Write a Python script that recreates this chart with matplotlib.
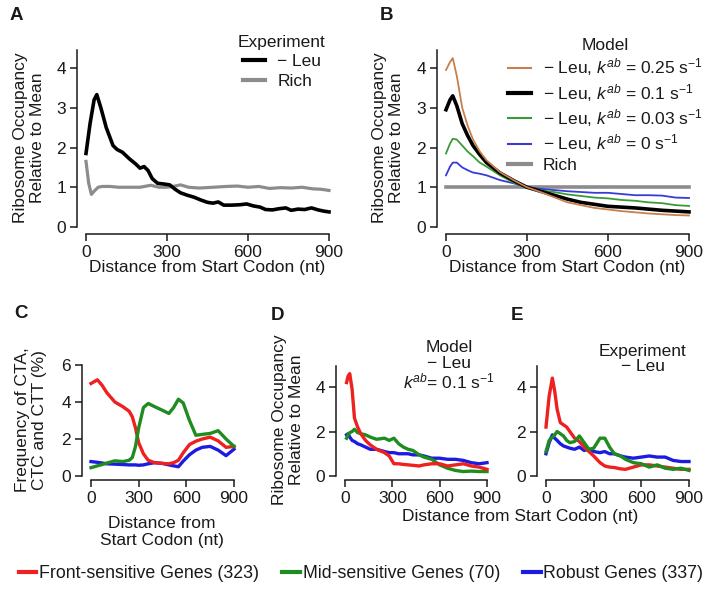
import matplotlib
matplotlib.use("Agg")
import matplotlib.pyplot as plt
from matplotlib.lines import Line2D

plt.rcParams['font.family'] = ['Liberation Sans', 'DejaVu Sans']
plt.rcParams['mathtext.fontset'] = 'custom'
plt.rcParams['mathtext.rm'] = 'Liberation Sans'
plt.rcParams['mathtext.it'] = 'Liberation Sans:italic'
plt.rcParams['text.color'] = '#1a1a1a'
plt.rcParams['axes.edgecolor'] = '#1a1a1a'
plt.rcParams['xtick.color'] = '#1a1a1a'
plt.rcParams['ytick.color'] = '#1a1a1a'

W, H = 709, 592
MINUS = '\u2212'
FS = 12.5

# ---- panel A: experiment ----
leu_x = [0, 15, 30, 40, 55, 75, 100, 115, 135, 160, 185, 200, 215, 230, 245, 265, 290,
         310, 330, 350, 375, 400, 425, 450, 470, 490, 510, 540, 570, 595, 620, 645, 665,
         690, 715, 740, 760, 785, 810, 835, 860, 880, 900]
leu_y = [1.85, 2.6, 3.2, 3.33, 3.0, 2.5, 2.05, 1.95, 1.88, 1.72, 1.58, 1.48, 1.52, 1.42,
         1.22, 1.1, 1.08, 1.06, 0.95, 0.86, 0.8, 0.75, 0.68, 0.62, 0.6, 0.63, 0.55, 0.55,
         0.56, 0.58, 0.53, 0.5, 0.44, 0.43, 0.46, 0.48, 0.42, 0.45, 0.44, 0.48, 0.43, 0.4, 0.38]
rich_x = [0, 10, 20, 30, 45, 60, 90, 120, 160, 200, 240, 270, 300, 330, 350, 380, 420,
          470, 520, 560, 600, 640, 680, 720, 760, 800, 840, 870, 900]
rich_y = [1.65, 1.1, 0.82, 0.9, 1.0, 1.02, 1.02, 1.0, 1.0, 1.0, 1.05, 1.0, 1.0, 1.03, 1.06,
          1.0, 0.98, 1.0, 1.02, 1.03, 1.0, 1.02, 0.97, 0.99, 0.98, 1.0, 0.96, 0.95, 0.92]

# ---- panel B: model ----
model_x = [0, 15, 25, 40, 60, 80, 100, 125, 150, 200, 250, 300, 350, 400, 450, 500, 550,
           600, 650, 700, 750, 800, 850, 900]
k025 = [3.95, 4.15, 4.25, 3.8, 3.0, 2.55, 2.2, 1.9, 1.68, 1.38, 1.18, 1.0, 0.88, 0.75,
        0.62, 0.55, 0.48, 0.44, 0.4, 0.37, 0.34, 0.32, 0.3, 0.29]
k010 = [2.95, 3.2, 3.3, 3.05, 2.6, 2.3, 2.05, 1.82, 1.62, 1.36, 1.17, 1.0, 0.9, 0.8, 0.7,
        0.62, 0.57, 0.52, 0.5, 0.48, 0.45, 0.42, 0.4, 0.38]
k003 = [1.85, 2.1, 2.22, 2.2, 2.05, 1.9, 1.78, 1.62, 1.52, 1.3, 1.12, 1.0, 0.92, 0.88,
        0.82, 0.78, 0.74, 0.72, 0.68, 0.66, 0.62, 0.6, 0.55, 0.53]
k000 = [1.3, 1.52, 1.62, 1.62, 1.5, 1.43, 1.37, 1.34, 1.3, 1.18, 1.1, 1.0, 0.96, 0.93, 0.9,
        0.88, 0.86, 0.86, 0.83, 0.8, 0.8, 0.79, 0.74, 0.73]
rich_model_x = [0, 900]
rich_model_y = [1.0, 1.0]
model_labels = [MINUS + r' Leu, $k^{ab}$ = 0.25 s$^{-1}$',
                MINUS + r' Leu, $k^{ab}$ = 0.1 s$^{-1}$',
                MINUS + r' Leu, $k^{ab}$ = 0.03 s$^{-1}$',
                MINUS + r' Leu, $k^{ab}$ = 0 s$^{-1}$',
                'Rich']

# ---- panel C: codon frequency ----
c_x = [0, 20, 40, 70, 100, 150, 200, 240, 260, 280, 300, 330, 360, 400, 450, 490, 520,
       550, 580, 620, 660, 700, 750, 800, 850, 900]
c_front = [5.0, 5.1, 5.2, 4.9, 4.5, 4.0, 3.75, 3.5, 3.2, 2.6, 1.8, 1.2, 0.85, 0.72, 0.68,
           0.66, 0.72, 0.85, 1.25, 1.7, 1.88, 2.0, 2.1, 1.9, 1.55, 1.6]
c_mid = [0.45, 0.5, 0.55, 0.62, 0.7, 0.82, 0.78, 0.85, 1.0, 1.6, 2.6, 3.7, 3.92, 3.75,
         3.55, 3.38, 3.7, 4.15, 3.95, 3.0, 2.2, 2.25, 2.3, 2.45, 2.0, 1.6]
c_robust = [0.78, 0.76, 0.74, 0.7, 0.66, 0.64, 0.62, 0.6, 0.6, 0.6, 0.58, 0.6, 0.66, 0.72,
            0.68, 0.6, 0.55, 0.5, 0.8, 1.15, 1.4, 1.55, 1.6, 1.4, 1.1, 1.45]

# ---- panel D: model, gene groups ----
d_x = [10, 20, 30, 45, 60, 80, 100, 130, 160, 200, 250, 280, 310, 340, 370, 400, 430,
       470, 500, 550, 600, 650, 700, 750, 800, 850, 900]
d_front = [4.2, 4.5, 4.6, 3.9, 2.6, 2.2, 1.9, 1.6, 1.4, 1.2, 1.05, 0.9, 0.55, 0.55, 0.52,
           0.5, 0.48, 0.45, 0.5, 0.55, 0.55, 0.45, 0.5, 0.55, 0.45, 0.4, 0.3]
d_mid = [1.7, 1.85, 1.95, 2.0, 2.1, 1.95, 1.9, 1.85, 1.75, 1.65, 1.7, 1.6, 1.7, 1.45, 1.3,
         1.2, 1.15, 0.95, 0.85, 0.75, 0.5, 0.35, 0.25, 0.2, 0.22, 0.2, 0.2]
d_robust = [1.85, 1.9, 1.75, 1.6, 1.55, 1.45, 1.4, 1.3, 1.2, 1.2, 1.1, 1.05, 1.05, 1.0,
            1.0, 1.0, 0.95, 0.95, 0.9, 0.8, 0.8, 0.75, 0.75, 0.7, 0.6, 0.55, 0.6]

# ---- panel E: experiment, gene groups ----
e_x = [0, 20, 40, 55, 70, 90, 110, 130, 150, 180, 210, 240, 270, 300, 340, 370, 400, 430,
       470, 500, 550, 600, 650, 700, 750, 800, 850, 900]
e_front = [2.2, 3.6, 4.4, 3.8, 3.0, 2.4, 2.3, 2.2, 2.0, 1.7, 1.55, 1.3, 1.1, 0.9, 0.6,
           0.45, 0.4, 0.38, 0.32, 0.3, 0.4, 0.5, 0.5, 0.45, 0.4, 0.35, 0.3, 0.3]
e_mid = [1.1, 1.6, 1.75, 1.85, 2.0, 1.9, 1.8, 1.6, 1.5, 1.55, 1.8, 1.5, 1.2, 1.25, 1.7,
         1.7, 1.3, 1.0, 0.9, 0.75, 0.6, 0.55, 0.4, 0.5, 0.35, 0.3, 0.35, 0.25]
e_robust = [1.0, 1.5, 1.85, 1.7, 1.6, 1.45, 1.35, 1.3, 1.25, 1.2, 1.3, 1.15, 1.2, 1.1,
            1.05, 1.1, 1.0, 1.0, 0.9, 0.85, 0.8, 0.85, 0.9, 0.85, 0.85, 0.7, 0.65, 0.65]

group_labels = ['Front-sensitive Genes (323)', 'Mid-sensitive Genes (70)', 'Robust Genes (337)']
RED, GREEN, BLUE = '#ee2020', '#1e8c1e', '#1c1ce0'

x_ticks = [0, 300, 600, 900]


def make_axes(fig, x0, x900, ypx0, ypx_per, ytop, yticks, ybound, xoff=9, yoff=6):
    # place an axes so that data x 0..900 and y 0..ytop land on given pixels
    left = x0 / W
    width = (x900 - x0) / W
    bottom = 1 - ypx0 / H
    height = ytop * ypx_per / H
    ax = fig.add_axes([left, bottom, width, height])
    ax.set_xlim(0, 900)
    ax.set_ylim(0, ytop)
    for s in ['top', 'right']:
        ax.spines[s].set_visible(False)
    ax.spines['left'].set_position(('outward', xoff * 0.72))
    ax.spines['bottom'].set_position(('outward', yoff * 0.72))
    ax.spines['left'].set_bounds(0, ybound)
    ax.spines['bottom'].set_bounds(0, 900)
    ax.spines['left'].set_linewidth(1.1)
    ax.spines['bottom'].set_linewidth(1.1)
    ax.set_xticks(x_ticks)
    ax.set_yticks(yticks)
    ax.tick_params(direction='out', length=5, width=1.1, labelsize=12.5, pad=3)
    return ax


fig = plt.figure(figsize=(W / 100, H / 100), dpi=100)

# A
axA = make_axes(fig, 86, 329, 227, 39.75, 4.5, [0, 1, 2, 3, 4], 4.45, yoff=7)
axA.plot(rich_x, rich_y, color='#8c8c8c', lw=2.3, clip_on=False)
axA.plot(leu_x, leu_y, color='black', lw=2.6, clip_on=False)
hA = [Line2D([], [], color='black', lw=3), Line2D([], [], color='#8c8c8c', lw=3)]
axA.legend(hA, [MINUS + ' Leu', 'Rich'], title='Experiment', frameon=False,
           loc='upper left', bbox_to_anchor=(238 / W, 1 - 35 / H),
           bbox_transform=fig.transFigure, fontsize=FS, title_fontsize=FS,
           handlelength=1.3, handletextpad=0.7, borderpad=0, labelspacing=0.25,
           borderaxespad=0)

# B
axB = make_axes(fig, 446, 689, 227, 39.75, 4.5, [0, 1, 2, 3, 4], 4.45, yoff=7)
axB.plot(rich_model_x, rich_model_y, color='#8c8c8c', lw=2.6, clip_on=False)
axB.plot(model_x, k000, color='#3a3ad8', lw=1.3, clip_on=False)
axB.plot(model_x, k003, color='#3a9a3a', lw=1.3, clip_on=False)
axB.plot(model_x, k010, color='black', lw=2.6, clip_on=False)
axB.plot(model_x, k025, color='#c8804a', lw=1.3, clip_on=False)
hB = [Line2D([], [], color='#c8804a', lw=1.5), Line2D([], [], color='black', lw=3),
      Line2D([], [], color='#3a9a3a', lw=1.5), Line2D([], [], color='#3a3ad8', lw=1.5),
      Line2D([], [], color='#8c8c8c', lw=3)]
axB.legend(hB, model_labels, title='Model', frameon=False,
           loc='upper left', bbox_to_anchor=(508 / W, 1 - 38 / H),
           bbox_transform=fig.transFigure, fontsize=FS, title_fontsize=FS,
           handlelength=1.3, handletextpad=0.7, borderpad=0, labelspacing=0.2,
           borderaxespad=0)

# C
axC = make_axes(fig, 91, 234, 476, 18.5, 6.2, [0, 2, 4, 6], 6, yoff=4)
axC.plot(c_x, c_robust, color=BLUE, lw=2.4, clip_on=False)
axC.plot(c_x, c_front, color=RED, lw=2.4, clip_on=False)
axC.plot(c_x, c_mid, color=GREEN, lw=2.4, clip_on=False)

# D
axD = make_axes(fig, 345, 487, 476, 22.25, 5.0, [0, 2, 4], 4.95, yoff=4)
axD.plot(d_x, d_robust, color=BLUE, lw=2.4, clip_on=False)
axD.plot(d_x, d_mid, color=GREEN, lw=2.4, clip_on=False)
axD.plot(d_x, d_front, color=RED, lw=2.4, clip_on=False)

# E
axE = make_axes(fig, 546, 689, 476, 22.25, 5.0, [0, 2, 4], 4.95, yoff=4)
axE.plot(e_x, e_robust, color=BLUE, lw=2.4, clip_on=False)
axE.plot(e_x, e_front, color=RED, lw=2.4, clip_on=False)
axE.plot(e_x, e_mid, color=GREEN, lw=2.4, clip_on=False)

# labels
def ftext(x, y, s, **kw):
    fig.text(x / W, 1 - y / H, s, **kw)

occ = 'Ribosome Occupancy\nRelative to Mean'
ftext(29, 138, occ, rotation=90, ha='center', va='center', fontsize=FS, linespacing=1.1)
ftext(388, 138, occ, rotation=90, ha='center', va='center', fontsize=FS, linespacing=1.1)
ftext(31, 420, 'Frequency of CTA,\nCTC and CTT (%)', rotation=90, ha='center',
      va='center', fontsize=FS, linespacing=1.1)
ftext(288, 420, occ, rotation=90, ha='center', va='center', fontsize=FS, linespacing=1.1)

dist = 'Distance from Start Codon (nt)'
ftext(207, 268, dist, ha='center', va='center', fontsize=FS)
ftext(567, 268, dist, ha='center', va='center', fontsize=FS)
ftext(162, 532, 'Distance from\nStart Codon (nt)', ha='center', va='center', fontsize=FS,
      linespacing=1.2)
ftext(520, 517, dist, ha='center', va='center', fontsize=FS)

ftext(449, 366, 'Model\n' + MINUS + ' Leu\n' + r'$k^{ab}$= 0.1 s$^{-1}$', ha='center',
      va='center', fontsize=FS, linespacing=1.05)
ftext(643, 359, 'Experiment\n' + MINUS + ' Leu', ha='center', va='center', fontsize=FS,
      linespacing=1.0)

for letter, lx, ly in [('A', 10, 15), ('B', 380, 15), ('C', 14, 314), ('D', 271, 315),
                       ('E', 511, 315)]:
    ftext(lx, ly, letter, ha='left', va='center', fontsize=13.5, fontweight='bold')

# bottom legend
hG = [Line2D([], [], color=c, lw=3) for c in (RED, GREEN, BLUE)]
fig.legend(hG, group_labels, ncol=3, frameon=False, loc='center',
           bbox_to_anchor=(361 / W, 1 - 574 / H), fontsize=12.8, handlelength=1.0,
           handletextpad=0.15, columnspacing=1.3, borderpad=0, borderaxespad=0)

fig.savefig('out.png', dpi=100)
